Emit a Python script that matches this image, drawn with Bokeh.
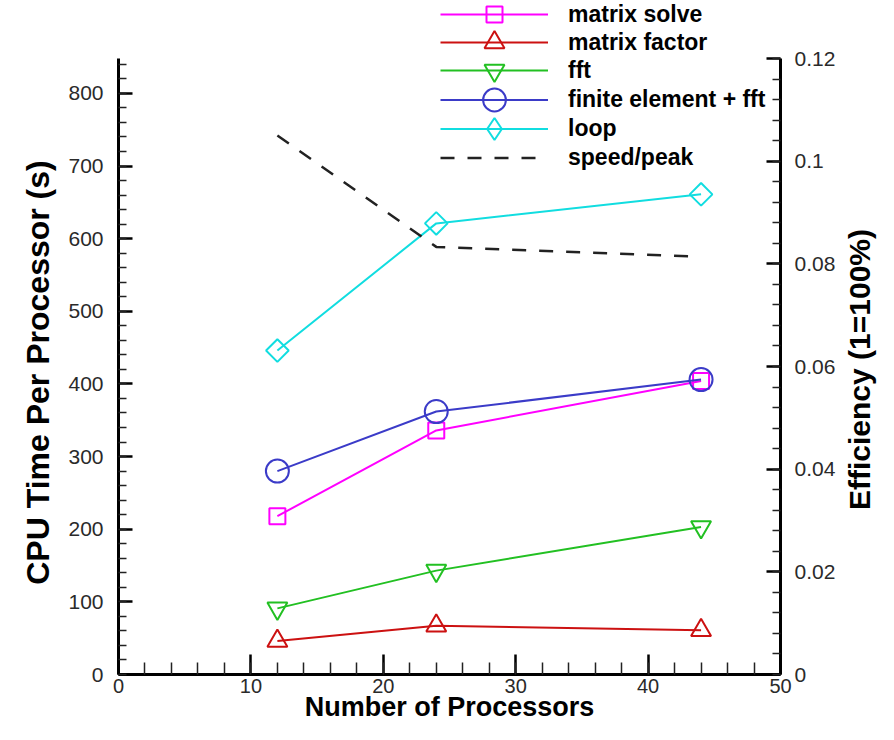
import numpy as np
from bokeh.plotting import figure
from bokeh.layouts import row
from bokeh.models import (Range1d, LinearAxis, FixedTicker, CustomJSTickFormatter,
                          Legend, LegendItem, Label)
from bokeh.embed import file_html
from bokeh.resources import INLINE

# ---- data ----
processors = [12, 24, 44]
matrix_solve = [218, 336, 404]
matrix_factor = [46, 67, 61]
fft = [91, 143, 203]
finite_element_fft = [280, 362, 406]
loop = [446, 621, 661]
speed_peak = [0.105, 0.0833, 0.0814]

x_ticks = [0, 10, 20, 30, 40, 50]
y_ticks = [0, 100, 200, 300, 400, 500, 600, 700, 800]
eff_ticks = [0, 0.02, 0.04, 0.06, 0.08, 0.1, 0.12]

x_label = "Number of Processors"
y_label = "CPU Time Per Processor (s)"
y2_label = "Efficiency (1=100%)"

FONT = "Liberation Sans"

# ---- layout constants (canvas px) ----
H = 724
W_LEFT, W_MAIN, W_RIGHT = 57, 781, 40
FRAME_BOTTOM = 674           # x axis
AXIS_TOP = 58                # where the y axes end
Y_TOP, E_TOP = 848, 0.12
scale = FRAME_BOTTOM / (FRAME_BOTTOM - AXIS_TOP)

p = figure(width=W_MAIN, height=H, x_range=Range1d(0, 50),
           y_range=Range1d(0, Y_TOP * scale),
           output_backend="svg", toolbar_location=None,
           min_border_left=61, min_border_right=56, min_border_top=0,
           min_border_bottom=H - FRAME_BOTTOM, x_axis_label=x_label)
p.outline_line_color = None
p.xgrid.visible = False
p.ygrid.visible = False
p.background_fill_color = "white"
p.border_fill_color = "white"

p.extra_y_ranges = {"eff": Range1d(0, E_TOP * scale)}
right = LinearAxis(y_range_name="eff")
p.add_layout(right, "right")


def style(ax, major_in, minor_in, lab_size, lab_standoff, title_size, title_standoff):
    ax.axis_line_width = 3
    ax.axis_line_color = "black"
    ax.major_tick_in = major_in
    ax.major_tick_out = 0
    ax.minor_tick_in = minor_in
    ax.minor_tick_out = 0
    ax.major_tick_line_width = 2.5
    ax.minor_tick_line_width = 1.5
    ax.major_tick_line_color = "black"
    ax.minor_tick_line_color = "#222222"
    ax.major_label_text_font = FONT
    ax.major_label_text_font_size = lab_size
    ax.major_label_text_color = "#2a2a2a"
    ax.major_label_standoff = lab_standoff
    ax.axis_label_text_font = FONT
    ax.axis_label_text_font_style = "bold"
    ax.axis_label_text_font_size = title_size
    ax.axis_label_text_color = "black"
    ax.axis_label_standoff = title_standoff


xax = p.xaxis[0]
yax = p.yaxis[0]
xax.ticker = FixedTicker(ticks=x_ticks, minor_ticks=list(np.arange(0, 50.1, 2)))
yax.ticker = FixedTicker(ticks=y_ticks, minor_ticks=list(np.arange(0, 848, 20)))
yax.bounds = (0, Y_TOP)
right.ticker = FixedTicker(ticks=eff_ticks,
                           minor_ticks=[round(v, 3) for v in np.arange(0, 0.1201, 0.004)])
right.bounds = (0, E_TOP)
right.formatter = CustomJSTickFormatter(code="return String(Number(tick.toFixed(3)));")

style(xax, 20, 12, "20px", 4, "27px", -4)
style(yax, 14, 8, "21px", 15, "31px", 13)
style(right, 14, 8, "21px", 14, "28px", 4)

# ---- series ----
series = [
    ("matrix solve", matrix_solve, "#ff00ff", "square", 16, 0.0, 40),
    ("matrix factor", matrix_factor, "#cc1111", "triangle", 20, 0.0, 50),
    ("fft", fft, "#22c022", "inverted_triangle", 20, 0.0, 50),
    ("finite element + fft", finite_element_fft, "#3b3bc8", "circle", 23, 0.0, 57),
    ("loop", loop, "#11dde0", "square", 16, np.pi / 4, 55),
]

entries = []
for name, vals, color, marker, size, ang, gh in series:
    ln = p.line(processors, vals, line_color=color, line_width=2)
    sc = p.scatter(processors, vals, marker=marker, size=size, angle=ang,
                   line_color=color, line_width=2, fill_alpha=0)
    rends = [ln, sc]
    if ang != 0.0:
        # legend-only diamond (zero size on the plot)
        lg = p.scatter(processors, vals, marker="diamond", size=0,
                       line_color=color, line_width=2, fill_alpha=0)
        rends = [ln, lg]
    entries.append((name, rends, gh))

dl = p.line(processors, speed_peak, y_range_name="eff", line_color="#222222",
            line_width=2.5, line_dash="14 13")
entries.append(("speed/peak", [dl], 29))

# one single-item legend per row, so each row's marker keeps its own size
row_centers = [14, 42, 70, 99, 128, 157]
for (name, rends, gh), cy in zip(entries, row_centers):
    lgd = Legend(items=[LegendItem(label=name, renderers=rends)],
                 location=(322, int(FRAME_BOTTOM - cy - gh / 2)),
                 padding=0, margin=0, glyph_width=108, glyph_height=gh, spacing=0,
                 label_standoff=20, label_text_font=FONT,
                 label_text_font_style="bold", label_text_font_size="23px",
                 label_text_color="black", border_line_color=None,
                 background_fill_alpha=0)
    p.add_layout(lgd, "center")


def title_panel(width, text, size, cx, cy):
    f = figure(width=width, height=H, x_range=Range1d(0, 1), y_range=Range1d(0, 1),
               x_axis_type=None, y_axis_type=None, output_backend="svg",
               toolbar_location=None, min_border_left=0, min_border_right=0,
               min_border_top=0, min_border_bottom=H - FRAME_BOTTOM)
    f.outline_line_color = None
    f.xgrid.visible = False
    f.ygrid.visible = False
    f.background_fill_color = "white"
    f.border_fill_color = "white"
    f.add_layout(Label(x=cx, y=FRAME_BOTTOM - cy, x_units="screen", y_units="screen",
                       text=text, angle=np.pi / 2, text_align="center",
                       text_baseline="middle", text_font=FONT,
                       text_font_style="bold", text_font_size=size,
                       text_color="black"))
    return f


p_left = title_panel(W_LEFT, y_label, "32px", 37, 372)
p_right = title_panel(W_RIGHT, y2_label, "30px", 21, 369)

layout = row(p_left, p, p_right, spacing=0)
open("out.html", "w").write(file_html(layout, INLINE))
